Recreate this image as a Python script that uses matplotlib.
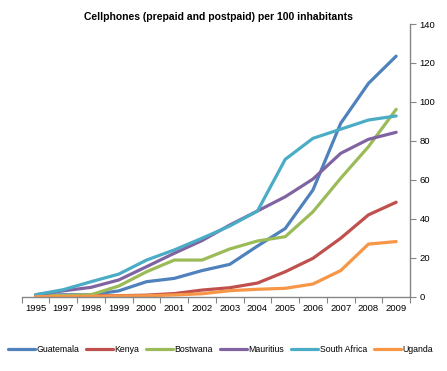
import numpy as np
import matplotlib.pyplot as plt

plt.rcParams['font.family'] = ['Liberation Sans', 'DejaVu Sans']

# Data
years = ['1995', '1997', '1998', '1999', '2000', '2001', '2002', '2003',
         '2004', '2005', '2006', '2007', '2008', '2009']
guatemala = [0.6, 1.0, 1.0, 3.0, 7.7, 9.4, 13.4, 16.6, 26.0, 35.0, 54.8, 89.0, 109.5, 123.5]
kenya = [0.0, 0.2, 0.4, 0.5, 0.8, 1.6, 3.4, 4.6, 7.0, 12.8, 19.7, 30.0, 42.0, 48.5]
botswana = [0.5, 0.6, 1.0, 5.5, 12.8, 18.8, 18.8, 24.5, 28.6, 30.8, 43.6, 60.8, 77.0, 96.2]
mauritius = [1.0, 3.0, 4.8, 8.6, 15.4, 22.3, 28.8, 36.8, 44.0, 51.3, 60.4, 73.6, 80.8, 84.4]
south_africa = [1.0, 3.6, 7.7, 11.6, 18.8, 24.0, 30.0, 36.3, 44.0, 70.5, 81.3, 86.0, 90.7, 92.8]
uganda = [0.0, 0.1, 0.2, 0.4, 0.5, 0.9, 1.5, 3.1, 3.8, 4.3, 6.5, 13.4, 27.0, 28.3]

series = [
    ('Guatemala', guatemala, '#4F81BD'),
    ('Kenya', kenya, '#C0504D'),
    ('Bostwana', botswana, '#9BBB59'),
    ('Mauritius', mauritius, '#8064A2'),
    ('South Africa', south_africa, '#4BACC6'),
    ('Uganda', uganda, '#F79646'),
]

fig = plt.figure(figsize=(4.47, 3.71), dpi=100)
ax = fig.add_axes([0.0486, 0.2003, 0.8687, 0.735])

x = np.arange(len(years))
for name, vals, col in series:
    ax.plot(x, vals, color=col, lw=2.3, label=name, solid_capstyle='round')

ax.set_xlim(-0.5, len(years) - 0.5)
ax.set_ylim(0, 140)
ax.set_yticks(np.arange(0, 141, 20))

# category boundaries as ticks, labels at the centres
ax.set_xticks(np.arange(-0.5, len(years), 1.0))
ax.set_xticklabels([])
ax.set_xticks(x, minor=True)
ax.set_xticklabels(years, minor=True)
ax.tick_params(axis='x', which='major', length=4, color='#868686', direction='out')
ax.tick_params(axis='x', which='minor', length=0, labelsize=6.8, pad=5)

ax.yaxis.tick_right()
ax.tick_params(axis='y', which='major', length=4, color='#868686', labelsize=6.8, pad=3)

for side in ['top', 'left']:
    ax.spines[side].set_visible(False)
for side in ['bottom', 'right']:
    ax.spines[side].set_color('#868686')
    ax.spines[side].set_linewidth(1.0)

fig.text(0.488, 0.955, 'Cellphones (prepaid and postpaid) per 100 inhabitants',
         ha='center', va='center', fontsize=7.5, fontweight='bold')

fig.legend(loc='center', bbox_to_anchor=(0.493, 0.0585), ncol=6, frameon=False,
           fontsize=6.3, handlelength=3.1, handletextpad=0.15, columnspacing=0.8,
           borderpad=0.2)

fig.savefig('out.png', dpi=100)
